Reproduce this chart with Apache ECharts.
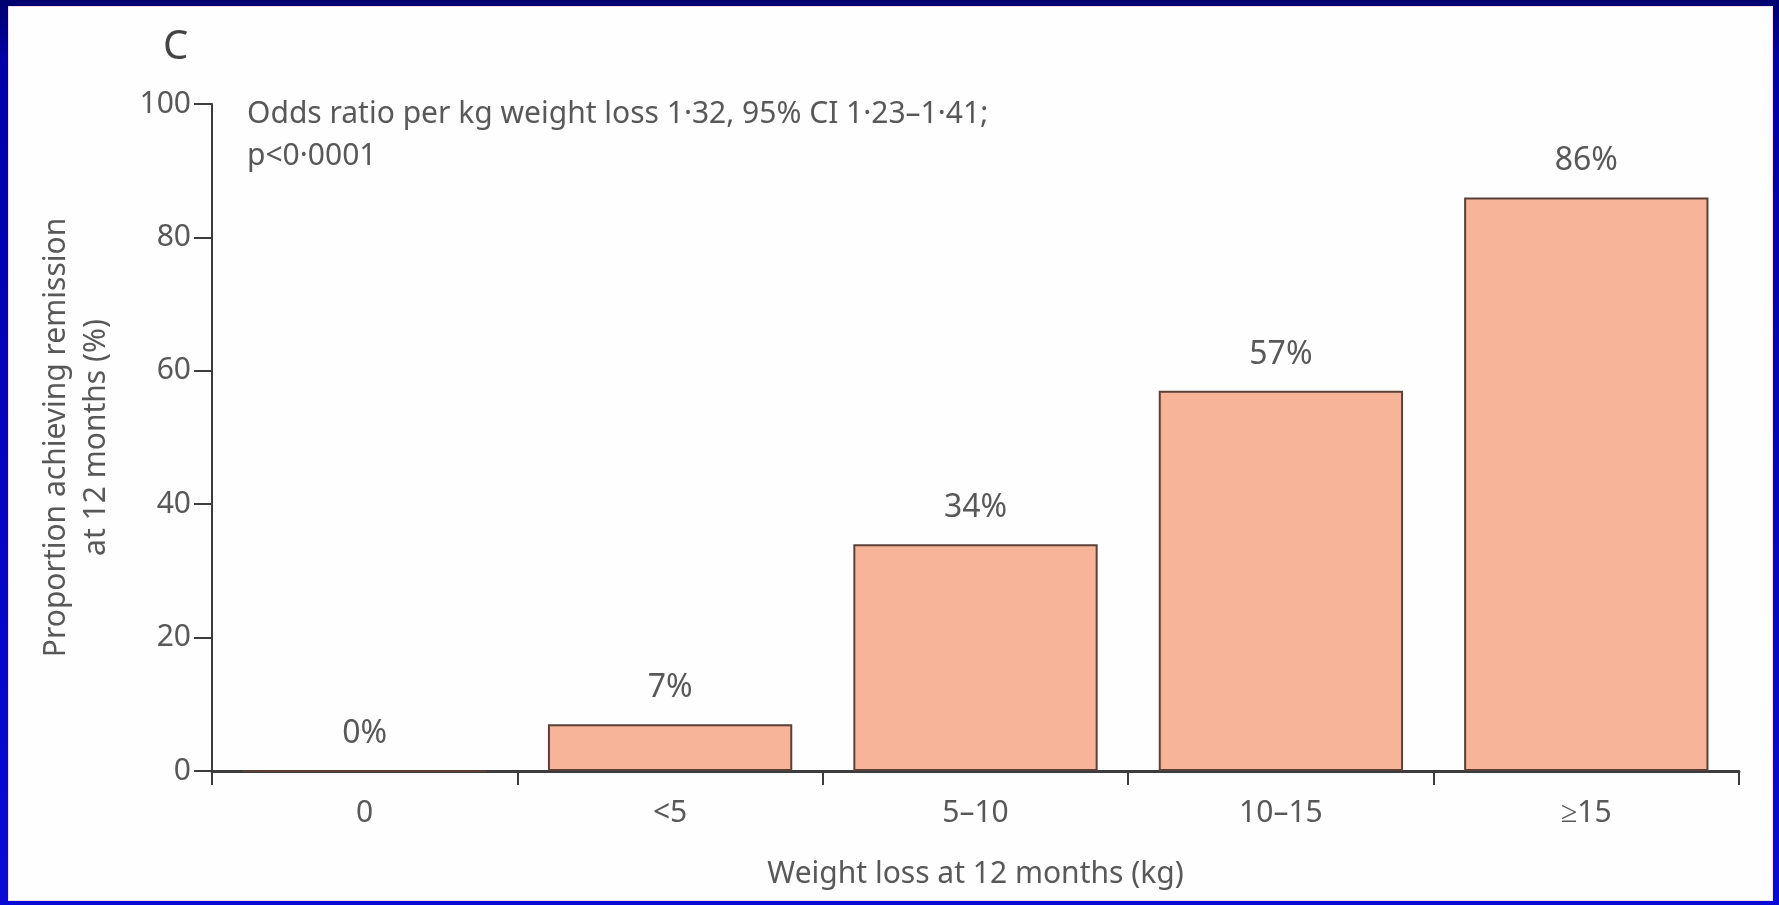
<!DOCTYPE html>
<html>
<head>
<meta charset="utf-8">
<script src="https://cdn.jsdelivr.net/npm/echarts@6/dist/echarts.min.js"></script>
<style>
  html, body { margin: 0; padding: 0; width: 1779px; height: 905px; overflow: hidden; }
  body { background: linear-gradient(to bottom, #00006e 0px, #0000a8 60px, #0a0ad6 100%); }
  #panel {
    position: absolute; left: 8px; top: 6px; width: 1765px; height: 895px;
    background: #fefefe; box-shadow: inset 0 0 0 1px #f3dbe8;
  }
</style>
</head>
<body>
<div id="panel"></div>
<script>
// 数据
const categories = ['0', '<5', '5\u201310', '10\u201315', '\u226515']
const remission = [0, 7, 34, 57, 86]
const yTicks = [0, 20, 40, 60, 80, 100]

const textColor = '#585858'
const axisColor = '#3c3c3c'
const font = 'Noto Sans'

const chart = echarts.init(document.getElementById('panel'))
chart.setOption({
  animation: false,
  textStyle: { fontFamily: font },
  grid: { left: 204, right: 34, top: 98, bottom: 130 },
  graphic: [
    {
      type: 'text', left: 155, top: 22,
      style: { text: 'C', font: '40px "Noto Sans"', fill: '#444' }
    },
    {
      type: 'text', left: 239, top: 87,
      style: {
        text: 'Odds ratio per kg weight loss 1\u00b732, 95% CI 1\u00b723\u20131\u00b741;\np<0\u00b70001',
        font: '30px "Noto Sans"', fill: textColor, lineHeight: 42
      }
    }
  ],
  xAxis: {
    type: 'category',
    data: categories,
    name: 'Weight loss at 12 months (kg)',
    nameLocation: 'middle',
    nameGap: 88,
    nameTextStyle: { fontSize: 30, color: textColor },
    axisLine: { lineStyle: { color: axisColor, width: 3 } },
    axisTick: { show: true, length: 14, lineStyle: { color: axisColor, width: 2 } },
    axisLabel: { fontSize: 30, color: textColor, margin: 27 }
  },
  yAxis: {
    type: 'value',
    min: 0,
    max: 100,
    interval: 20,
    name: 'Proportion achieving remission\nat 12 months (%)',
    nameLocation: 'middle',
    nameGap: 96,
    nameTextStyle: { fontSize: 30, color: textColor, lineHeight: 40 },
    axisLine: { show: true, lineStyle: { color: axisColor, width: 2 } },
    axisTick: { show: true, length: 18, lineStyle: { color: axisColor, width: 2 } },
    axisLabel: {
      fontSize: 30, color: textColor, margin: 21,
      formatter: v => (yTicks.indexOf(v) >= 0 ? String(v) : '')
    },
    splitLine: { show: false }
  },
  series: [
    {
      type: 'bar',
      data: remission,
      barCategoryGap: '20%',
      itemStyle: { color: '#f7b499', borderColor: '#5b4037', borderWidth: 2 },
      label: {
        show: true,
        position: 'top',
        distance: 20,
        fontSize: 32,
        color: textColor,
        formatter: p => p.value + '%'
      }
    }
  ]
})
</script>
</body>
</html>
